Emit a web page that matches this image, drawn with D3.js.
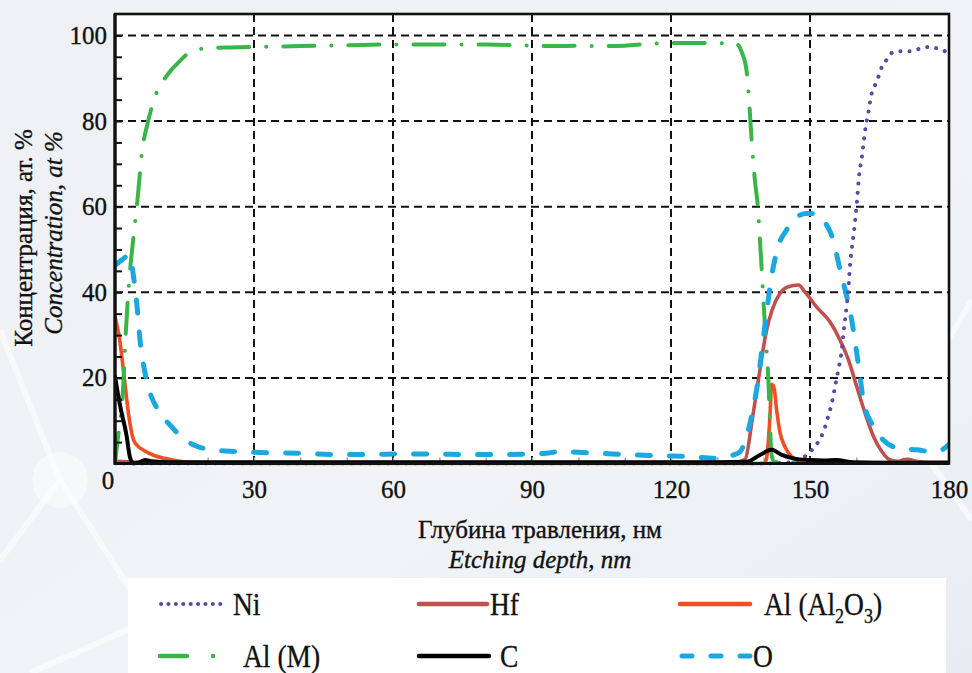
<!DOCTYPE html>
<html><head><meta charset="utf-8">
<script src="https://cdn.jsdelivr.net/npm/d3@7"></script>
<style>
html,body{margin:0;padding:0;background:#eef1f5;}
svg{display:block;}
text{font-family:"Liberation Serif","Times New Roman",serif;fill:#111;stroke:#111;stroke-width:0.35px;}
</style></head>
<body>
<svg id="chart" width="972" height="673"></svg>
<script>
// ---------- data ----------
const xTicks = [30, 60, 90, 120, 150, 180];
const yTicks = [20, 40, 60, 80, 100];
const yMinorTicks = d3.range(5, 105, 5);
const xMinorTicks = d3.range(10, 180, 10);

const niDepth = [0, 140, 146, 148, 149.3, 150.7, 151.8, 152.9, 153.9, 154.7, 155.4, 156.1, 156.8, 157.3, 157.9, 158.3, 158.6, 159, 159.5, 160.1, 160.6, 161.2, 161.9, 162.6, 163.3, 164, 164.8, 165.5, 166.6, 167.8, 169.8, 171.9, 173.7, 175.8, 177.3, 179.5, 180];
const niConc  = [0, 0, 0.3, 1, 2, 3.5, 5.1, 7.4, 10.9, 14.1, 17.9, 21.8, 26.1, 31.2, 36.6, 40.9, 45.9, 50, 54.3, 60.9, 67.3, 71.6, 77.8, 82.1, 86.4, 88.3, 90.4, 92.6, 94.4, 96, 96.3, 96.3, 96.9, 97.3, 97, 96.1, 95.8];

const hfDepth = [0, 5, 20, 60, 100, 130, 134, 136, 137.5, 138.5, 139.5, 140.5, 141.8, 143.5, 145.3, 147.5, 148.9, 151.4, 154.3, 156.5, 158.3, 160.1, 161.9, 163.7, 165.5, 167.3, 169, 171, 173, 176, 180];
const hfConc  = [0.5, 0.3, 0.2, 0.2, 0.2, 0.2, 0.3, 1, 10, 17, 24, 30.5, 35.8, 39.7, 41.3, 41.7, 40.1, 36.6, 33.1, 28.8, 24.2, 17.9, 11.7, 6.3, 2.8, 0.8, 0.5, 1, 0.5, 0.3, 0.3];

const alOxDepth = [0, 1, 2, 3, 4, 5, 6, 8.6, 11.2, 14, 18, 30, 60, 100, 130, 140, 140.6, 141, 141.4, 141.7, 142.2, 142.8, 143.5, 144.6, 146, 148, 150, 160, 180];
const alOxConc  = [34.3, 29, 20, 11, 5.5, 4, 3.2, 1.8, 1.1, 0.5, 0.1, 0, 0, 0, 0, 0, 1, 5, 12, 18.5, 17.9, 12.5, 7.4, 3.9, 1.6, 0.6, 0.3, 0.1, 0.1];

const alMDepth = [0, 0.5, 1.8, 2.2, 3.2, 4.0, 4.8, 5.8, 7.2, 8.3, 9.3, 10.8, 12.2, 13.7, 15.1, 16.5, 17.9, 20, 25, 30, 40, 50, 60, 70, 80, 90, 95, 100, 105, 110, 115, 120, 125, 130, 134, 135.3, 136.3, 136.7, 137.4, 138.1, 138.8, 139.2, 139.6, 140, 140.6, 141, 141.4, 141.7, 142.2, 145, 150, 160, 180];
const alMConc  = [0, 4.8, 18.8, 28, 44.5, 53, 61, 72.5, 80.2, 84.5, 87.5, 90, 92, 93.7, 95.2, 96.2, 96.7, 97, 97.2, 97.3, 97.5, 97.7, 97.9, 97.9, 97.9, 97.6, 97.5, 97.6, 97.5, 97.6, 98, 98.2, 98.2, 98.2, 98.1, 96, 91.8, 87.2, 75.5, 66.2, 59.2, 52, 45, 37, 27, 20, 8, 2, 0.5, 0.3, 0.3, 0.2, 0.2];

const cDepth = [0, 1.1, 2.5, 3.2, 4, 5, 6.5, 8, 12, 30, 60, 100, 130, 136.3, 139.2, 141.7, 143.9, 146.4, 150, 153, 155.7, 159.3, 165, 180];
const cConc  = [20.3, 13.5, 6.5, 1.6, 0, 0.2, 0.8, 0.5, 0.3, 0.3, 0.3, 0.3, 0.3, 0.4, 2, 3.2, 2, 1.2, 0.8, 0.7, 0.8, 0.3, 0.2, 0.2];

const oDepth = [0, 1.4, 3.2, 4, 4.7, 5.4, 6.5, 7.6, 9.3, 12.2, 15.1, 18, 20.9, 26.3, 32.7, 40, 47.1, 54.3, 60.8, 68.7, 75.9, 81.6, 88.8, 93, 96, 102.5, 109.7, 116.9, 124.1, 129.9, 131.3, 133.5, 134.9, 136.3, 137.8, 138.8, 139.6, 140.6, 141.7, 143.1, 144.9, 147.1, 149.3, 151.1, 153.2, 155, 156.5, 157.6, 159, 160.1, 160.8, 161.5, 163.7, 165.8, 169.4, 173, 176.6, 178.5, 180];
const oConc  = [46.3, 47.5, 48.7, 43.6, 37.4, 28.8, 21.1, 16.4, 12.5, 8.6, 5.5, 3.9, 3.2, 2.8, 2.5, 2.4, 2.1, 2.1, 2.2, 2.2, 2.1, 2.1, 2.2, 2.4, 2.75, 2.5, 2.1, 1.8, 1.6, 1.2, 1.4, 2.0, 2.75, 6.3, 13.3, 19.5, 26.5, 35, 43.6, 50.6, 54.5, 57.6, 58.4, 58.4, 56.4, 52.2, 45.2, 40.5, 33.5, 25.7, 20.3, 14.8, 8.6, 5.5, 3.5, 3.2, 2.75, 3.2, 4.5];

const seriesNames = ["Ni", "Hf", "Al (Al2O3)", "Al (M)", "C", "O"];
const seriesColors = ["#5a4aa3", "#c0504d", "#f04e23", "#3ab54a", "#000000", "#1ba8e0"];

// ---------- setup ----------
const FONT = '"Liberation Serif","Times New Roman",serif';
const svg = d3.select("#chart");
const W = 972, H = 673;
const x = d3.scaleLinear().domain([0, 180]).range([115, 949]);
const y = d3.scaleLinear().domain([0, 105]).range([463.5, 14]);

// background
const defs = svg.append("defs");
const bg = defs.append("linearGradient").attr("id", "bg").attr("x1", 0).attr("y1", 0).attr("x2", 1).attr("y2", 1);
bg.append("stop").attr("offset", "0%").attr("stop-color", "#eef0f3");
bg.append("stop").attr("offset", "60%").attr("stop-color", "#f1f3f6");
bg.append("stop").attr("offset", "100%").attr("stop-color", "#e8edf3");
svg.append("rect").attr("width", W).attr("height", H).attr("fill", "url(#bg)");
// faint network decoration
const deco = svg.append("g").attr("stroke", "#ffffff").attr("stroke-opacity", 0.55).attr("fill", "none").attr("stroke-width", 6);
deco.append("path").attr("d", "M0,330 L60,480 L150,620 M60,480 L0,560 M150,620 L30,673");
deco.append("path").attr("d", "M972,300 L900,420 L972,520");
svg.append("circle").attr("cx", 60).attr("cy", 480).attr("r", 28).attr("fill", "#ffffff").attr("opacity", 0.45);
svg.append("circle").attr("cx", 150).attr("cy", 620).attr("r", 22).attr("fill", "#ffffff").attr("opacity", 0.4);

// plot area
svg.append("rect").attr("x", x(0)).attr("y", y(105)).attr("width", x(180) - x(0)).attr("height", y(0) - y(105)).attr("fill", "#fff");

defs.append("clipPath").attr("id", "clip").append("rect")
  .attr("x", x(0)).attr("y", y(105)).attr("width", x(180) - x(0)).attr("height", y(0) - y(105) + 2);

// grid
const grid = svg.append("g").attr("stroke", "#111").attr("stroke-width", 2).attr("stroke-dasharray", "8 5");
grid.selectAll("line.v").data(xTicks.slice(0, -1)).join("line")
  .attr("x1", d => x(d)).attr("x2", d => x(d)).attr("y1", y(105)).attr("y2", y(0));
grid.selectAll("line.h").data(yTicks).join("line")
  .attr("x1", x(0)).attr("x2", x(180)).attr("y1", d => y(d)).attr("y2", d => y(d));

// x minor ticks (grey, inside)
svg.append("g").attr("transform", `translate(0,${y(0)})`)
  .call(d3.axisTop(x).tickValues(xMinorTicks).tickSize(6).tickFormat(""))
  .call(g => g.select(".domain").remove())
  .call(g => g.selectAll("line").attr("stroke", "#aaa").attr("stroke-width", 1.6));

// curves
const line = d3.line().x(d => x(d[0])).y(d => y(d[1])).curve(d3.curveMonotoneX);
const zip = (a, b) => a.map((v, i) => [v, b[i]]);
const styles = [
  {w: 4, dash: "0.1 9", cap: "round"},
  {w: 3.6, dash: null, cap: "round"},
  {w: 3.6, dash: null, cap: "round"},
  {w: 4, dash: "31 17 0.1 17", cap: "round"},
  {w: 4, dash: null, cap: "round"},
  {w: 5, dash: "13 19", cap: "round"}
];
const seriesData = [zip(niDepth, niConc), zip(hfDepth, hfConc), zip(alOxDepth, alOxConc), zip(alMDepth, alMConc), zip(cDepth, cConc), zip(oDepth, oConc)];
const drawOrder = [1, 2, 3, 5, 0, 4];
const curves = svg.append("g").attr("clip-path", "url(#clip)");
drawOrder.forEach(i => {
  curves.append("path").datum(seriesData[i]).attr("d", line)
    .attr("fill", "none").attr("stroke", seriesColors[i])
    .attr("stroke-width", styles[i].w)
    .attr("stroke-linecap", styles[i].cap).attr("stroke-linejoin", "round")
    .attr("stroke-dasharray", styles[i].dash);
});

// frame
svg.append("rect").attr("x", x(0)).attr("y", y(105)).attr("width", x(180) - x(0)).attr("height", y(0) - y(105))
  .attr("fill", "none").attr("stroke", "#111").attr("stroke-width", 2.6);
svg.append("line").attr("x1", x(0)).attr("x2", x(0)).attr("y1", y(105)).attr("y2", y(0) + 1).attr("stroke", "#111").attr("stroke-width", 3.2);
svg.append("line").attr("x1", x(0)).attr("x2", x(180)).attr("y1", y(0)).attr("y2", y(0)).attr("stroke", "#111").attr("stroke-width", 3);

// y minor ticks (inside)
svg.append("g").attr("transform", `translate(${x(0)},0)`)
  .call(d3.axisRight(y).tickValues(yMinorTicks).tickSize(7).tickFormat(""))
  .call(g => g.select(".domain").remove())
  .call(g => g.selectAll("line").attr("stroke", "#111").attr("stroke-width", 2));

// y labels
svg.append("g").attr("transform", `translate(${x(0)},0)`)
  .call(d3.axisLeft(y).tickValues(yTicks).tickSize(0).tickPadding(8))
  .attr("font-family", FONT)
  .call(g => g.select(".domain").remove())
  .call(g => g.selectAll("text").attr("font-size", 25).attr("font-family", FONT).attr("fill", "#111"));
// x labels
svg.append("g").attr("transform", `translate(0,${y(0)})`)
  .call(d3.axisBottom(x).tickValues(xTicks).tickSize(0).tickPadding(17))
  .attr("font-family", FONT)
  .call(g => g.select(".domain").remove())
  .call(g => g.selectAll("text").attr("font-size", 25).attr("font-family", FONT).attr("fill", "#111"));
// shared zero
svg.append("text").attr("x", 108).attr("y", 489).attr("text-anchor", "middle").attr("font-size", 25).attr("font-family", FONT).text("0");

// axis titles
const tt = (sel) => sel.attr("font-family", FONT).attr("font-size", 25).attr("text-anchor", "middle");
svg.append("text").attr("x", 540).attr("y", 538).call(tt).text("Глубина травления, нм");
svg.append("text").attr("x", 540).attr("y", 568).call(tt).attr("font-style", "italic").text("Etching depth, nm");
svg.append("text").attr("transform", "translate(32,238) rotate(-90)").call(tt).text("Концентрация, ат. %");
svg.append("text").attr("transform", "translate(62,233) rotate(-90)").call(tt).attr("font-style", "italic").text("Concentration, at %");

// legend
svg.append("rect").attr("x", 128).attr("y", 578).attr("width", 818).attr("height", 100).attr("fill", "#fff");
const legPos = [
  {lx1: 161, lx2: 227, tx: 233, y: 604},
  {lx1: 419, lx2: 487, tx: 490, y: 604},
  {lx1: 680, lx2: 750, tx: 764, y: 604},
  {lx1: 160, lx2: 215, tx: 243, y: 656},
  {lx1: 419, lx2: 489, tx: 500, y: 656},
  {lx1: 682, lx2: 750, tx: 753, y: 656}
];
const legStyles = [
  {w: 4, dash: "0.1 7.3"},
  {w: 4.5, dash: null},
  {w: 4.5, dash: null},
  {w: 4.5, dash: "27 26 0.1 100"},
  {w: 4.5, dash: null},
  {w: 5, dash: "10 19"}
];
const leg = svg.append("g");
seriesNames.forEach((name, i) => {
  const p = legPos[i];
  leg.append("line").attr("x1", p.lx1).attr("x2", p.lx2).attr("y1", p.y).attr("y2", p.y)
    .attr("stroke", seriesColors[i]).attr("stroke-width", legStyles[i].w)
    .attr("stroke-linecap", "round").attr("stroke-dasharray", legStyles[i].dash);
  const t = leg.append("text").attr("transform", `translate(${p.tx},${p.y + 11}) scale(0.86,1)`)
    .attr("font-family", FONT).attr("font-size", 32);
  if (name === "Al (Al2O3)") {
    t.append("tspan").text("Al (Al");
    t.append("tspan").attr("font-size", 21).attr("dy", 8).text("2");
    t.append("tspan").attr("dy", -8).text("O");
    t.append("tspan").attr("font-size", 21).attr("dy", 8).text("3");
    t.append("tspan").attr("dy", -8).text(")");
  } else {
    t.text(name);
  }
});
</script>
</body></html>
